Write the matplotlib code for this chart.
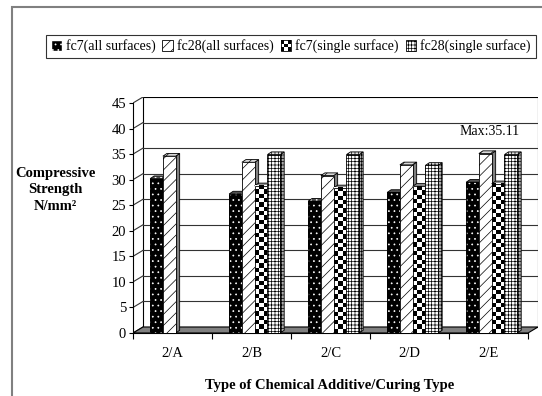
import matplotlib
matplotlib.use("Agg")
import matplotlib.pyplot as plt
import numpy as np
from matplotlib.patches import Polygon, Rectangle, Patch
from matplotlib.legend_handler import HandlerBase

# data
categories = ["2/A", "2/B", "2/C", "2/D", "2/E"]
series_names = ["fc7(all surfaces)", "fc28(all surfaces)",
                "fc7(single surface)", "fc28(single surface)"]
fc7_all = [30.2, 27.2, 25.8, 27.5, 29.5]
fc28_all = [34.6, 33.4, 30.8, 32.9, 35.11]
fc7_single = [np.nan, 28.8, 28.4, 28.7, 29.2]
fc28_single = [np.nan, 34.9, 34.9, 32.8, 34.9]
y_ticks = list(range(0, 50, 5))

plt.rcParams["font.family"] = ["Liberation Serif", "DejaVu Serif"]
plt.rcParams["hatch.linewidth"] = 0.5

W, H = 542, 396
fig = plt.figure(figsize=(W / 100, H / 100), dpi=100)

# pseudo 3d geometry (in data units)
n_cat = len(categories)
y_max = 45
depth_x = 10 / 79.0
depth_y = 6 / 5.11
bar_w = 0.1615
bar_dx = 4 / 79.0
bar_dy = 2.7 / 5.11
shift = 0.04

left_px, right_px, bottom_px, top_px = 133, 538, 333, 97
ax = fig.add_axes([left_px / W, 1 - bottom_px / H,
                   (right_px - left_px) / W, (bottom_px - top_px) / H])

styles = [
    dict(face="black", hatch="...", hcolor="white", side="black", side_hatch="...", top="#505050"),
    dict(face="white", hatch="///", hcolor="black", side="#808080", side_hatch=None, top="#d8d8d8"),
    dict(face="checker", hatch=None, hcolor="black", side="#303030", side_hatch=None, top="#909090"),
    dict(face="white", hatch="+++++", hcolor="black", side="#b0b0b0", side_hatch="+++++", top="#e4e4e4"),
]


def draw_face(xy, face, hatch, hcolor, z):
    ax.add_patch(Polygon(xy, closed=True, facecolor=face, edgecolor=hcolor if hatch else face,
                         hatch=hatch, lw=0, zorder=z))
    ax.add_patch(Polygon(xy, closed=True, fill=False, edgecolor="black", lw=0.6, zorder=z + 0.01))


# walls and floor
wall_col = "#333333"
ax.add_patch(Rectangle((depth_x, depth_y), n_cat, y_max, facecolor="white",
                       edgecolor="black", lw=0.8, zorder=0))
for v in y_ticks[1:-1]:
    ax.plot([depth_x, n_cat + depth_x], [v + depth_y, v + depth_y], color=wall_col, lw=0.8, zorder=0.5)
for v in y_ticks:
    ax.plot([0, depth_x], [v, v + depth_y], color=wall_col, lw=0.8, zorder=0.5)
ax.add_patch(Polygon([(0, 0), (n_cat, 0), (n_cat + depth_x, depth_y), (depth_x, depth_y)],
                     closed=True, facecolor="#808080", edgecolor="black", lw=0.8, zorder=1))

# bars
all_series = [fc7_all, fc28_all, fc7_single, fc28_single]
for k, (vals, st) in enumerate(zip(all_series, styles)):
    for i, v in enumerate(vals):
        if np.isnan(v):
            continue
        x0 = i + 0.5 + (k - 2) * bar_w + shift
        z = 3 + k
        side = [(x0 + bar_w, 0), (x0 + bar_w + bar_dx, bar_dy),
                (x0 + bar_w + bar_dx, v + bar_dy), (x0 + bar_w, v)]
        top = [(x0, v), (x0 + bar_w, v), (x0 + bar_w + bar_dx, v + bar_dy), (x0 + bar_dx, v + bar_dy)]
        draw_face(side, st["side"], st["side_hatch"], st["hcolor"], z)
        draw_face(top, st["top"], st["hatch"], st["hcolor"], z + 0.1)
        if st["face"] == "checker":
            rows = max(1, int(round(v * 5.11 / 4.3)))
            cells = (np.add.outer(np.arange(rows), np.arange(3)) % 2).astype(float)
            ax.imshow(cells, cmap="gray", extent=(x0, x0 + bar_w, 0, v), aspect="auto",
                      interpolation="nearest", origin="lower", zorder=z + 0.2)
            ax.bar(x0, v, width=bar_w, align="edge", fill=False, edgecolor="black", lw=0.6, zorder=z + 0.3)
        else:
            ax.bar(x0, v, width=bar_w, align="edge", color=st["face"], edgecolor=st["hcolor"],
                   hatch=st["hatch"], lw=0, zorder=z + 0.2)
            ax.bar(x0, v, width=bar_w, align="edge", fill=False, edgecolor="black", lw=0.6, zorder=z + 0.3)

ax.text(4.52, 39.4, "Max:%.2f" % np.nanmax(fc28_all), ha="center", va="center", fontsize=10, zorder=10)

ax.set_xlim(0, n_cat + depth_x)
ax.set_ylim(0, y_max + depth_y)
for s in ["top", "right"]:
    ax.spines[s].set_visible(False)
ax.spines["left"].set_bounds(0, y_max)
ax.spines["bottom"].set_bounds(0, n_cat)
ax.spines["left"].set_linewidth(0.8)
ax.spines["bottom"].set_linewidth(0.8)
ax.spines["left"].set_zorder(2)
ax.set_yticks(y_ticks)
ax.tick_params(axis="y", length=3, width=0.8, pad=2, labelsize=10.5)
ax.set_xticks(range(n_cat + 1))
ax.set_xticklabels([])
ax.set_xticks(np.arange(n_cat) + 0.5, minor=True)
ax.set_xticklabels(categories, minor=True)
ax.tick_params(axis="x", which="major", length=4, width=0.8)
ax.tick_params(axis="x", which="minor", length=0, pad=10, labelsize=10.5)
ax.set_facecolor("none")

fig.text(55 / W, 1 - 190 / H, "Compressive\nStrength\nN/mm²", ha="center", va="center",
         fontsize=10.5, fontweight="bold", linespacing=1.4)
fig.text(330 / W, 1 - 386 / H, "Type of Chemical Additive/Curing Type", ha="center", va="center",
         fontsize=10.5, fontweight="bold")


class CheckerHandler(HandlerBase):
    def create_artists(self, legend, orig_handle, xdescent, ydescent, width, height, fontsize, trans):
        n = 3
        cw, ch = width / n, height / n
        arts = []
        for a in range(n):
            for b in range(n):
                arts.append(Rectangle((-xdescent + a * cw, -ydescent + b * ch), cw, ch, lw=0,
                                      facecolor="black" if (a + b) % 2 == 0 else "white", transform=trans))
        arts.append(Rectangle((-xdescent, -ydescent), width, height, fill=False,
                              edgecolor="black", lw=0.6, transform=trans))
        return arts


checker_handle = Patch(label=series_names[2])
handles = [
    Patch(facecolor="black", edgecolor="white", hatch="...", label=series_names[0]),
    Patch(facecolor="white", edgecolor="black", hatch="///", lw=0.6, label=series_names[1]),
    checker_handle,
    Patch(facecolor="white", edgecolor="black", hatch="+++++", lw=0.6, label=series_names[3]),
]
leg = fig.legend(handles=handles, loc="center", bbox_to_anchor=(291 / W, 1 - 46.5 / H), ncol=4,
                 fontsize=10, frameon=True, fancybox=False, handlelength=0.75, handleheight=0.75,
                 handletextpad=0.3, columnspacing=0.5, borderpad=0.35, borderaxespad=0,
                 handler_map={checker_handle: CheckerHandler()})
leg.get_frame().set_edgecolor("black")
leg.get_frame().set_linewidth(0.8)

# outer chart border (only left and top are visible in the crop)
fig.add_artist(Rectangle((12 / W, -0.1), 1.2, 1.1 - 7 / H, transform=fig.transFigure,
                         fill=False, edgecolor="#808080", lw=1.5))

fig.savefig("out.png", dpi=100)
